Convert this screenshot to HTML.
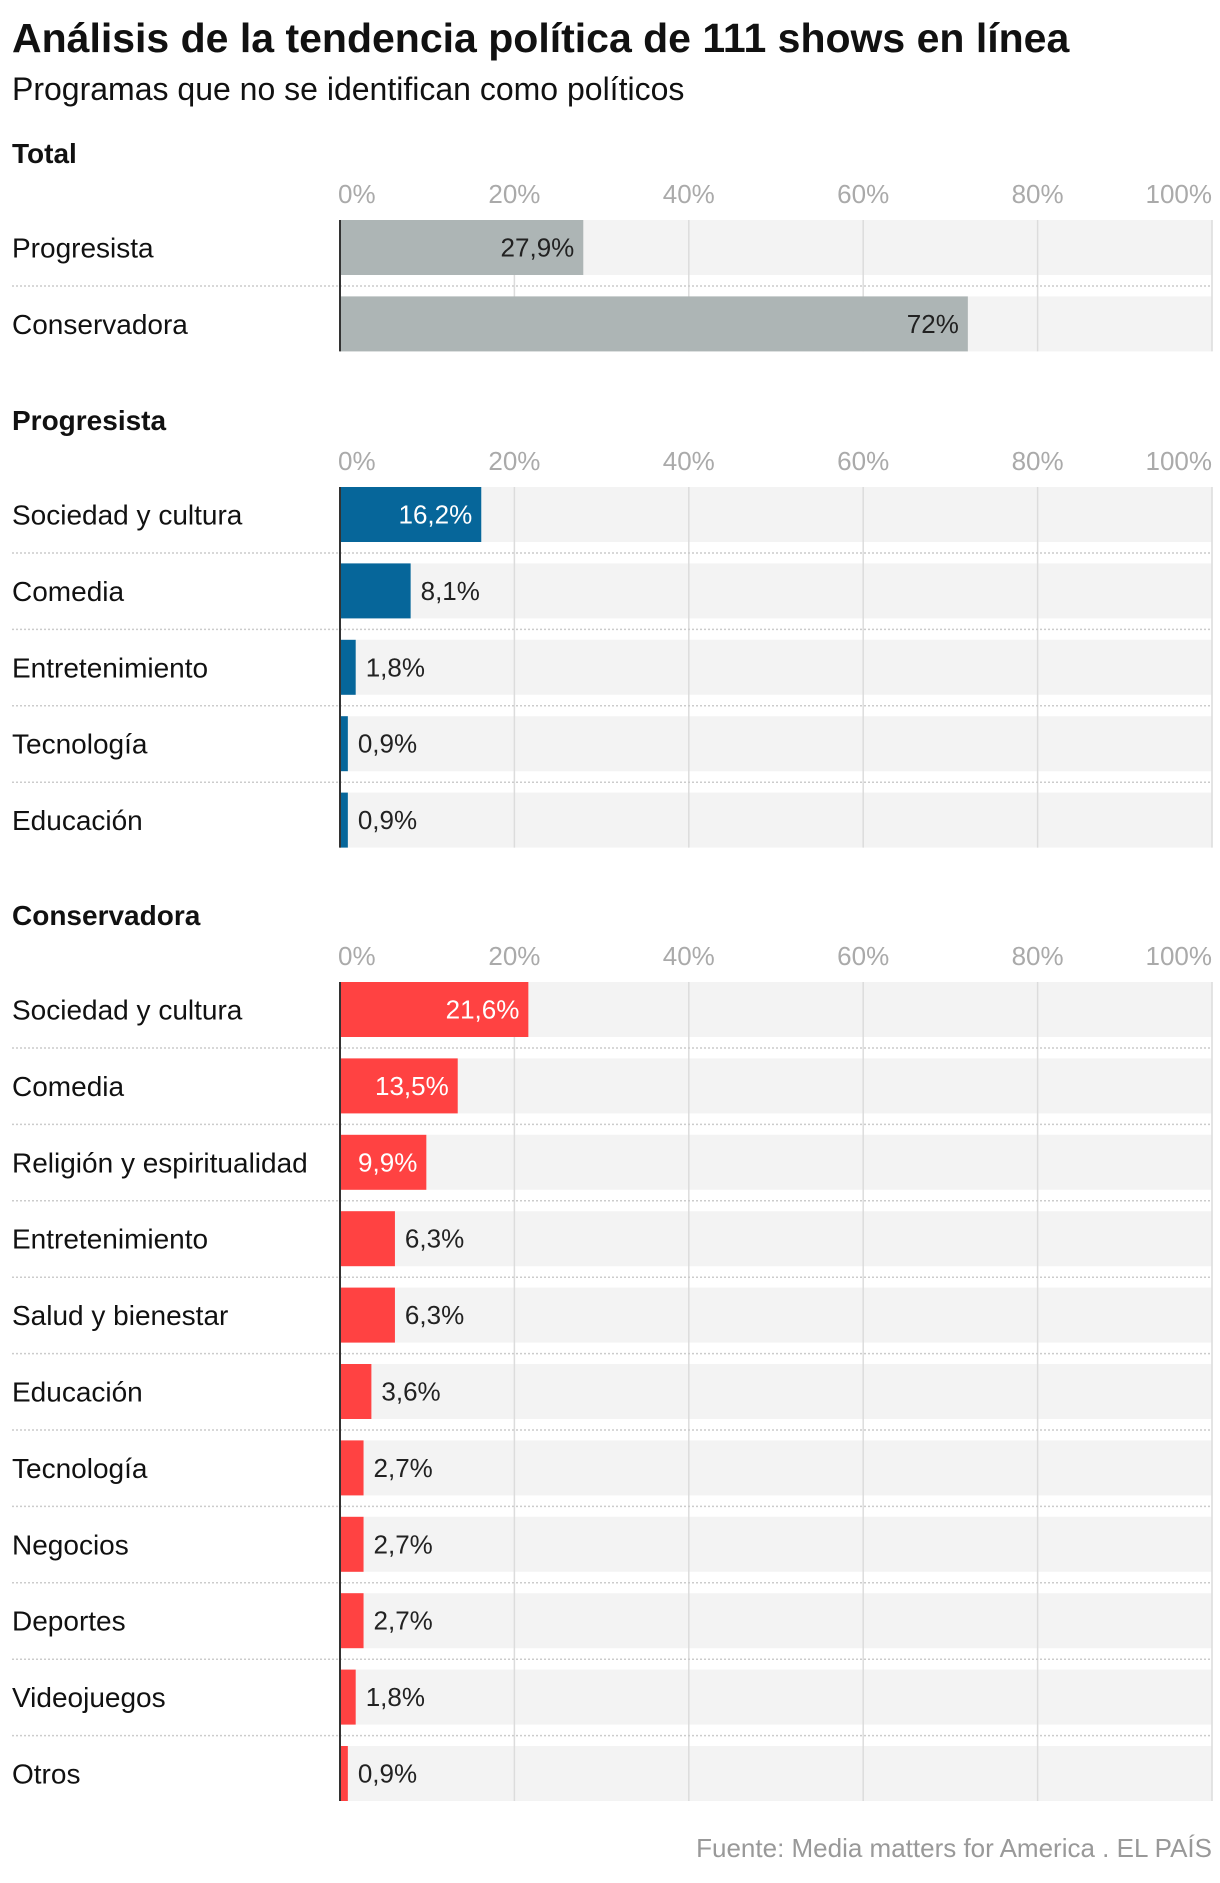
<!DOCTYPE html>
<html><head><meta charset="utf-8">
<style>
html,body{margin:0;padding:0;background:#fff;}
body{width:1220px;height:1878px;overflow:hidden;font-family:"Liberation Sans",sans-serif;}
svg text{font-family:"Liberation Sans",sans-serif;}
</style></head>
<body>
<svg id="chart" width="1220" height="1878" xmlns="http://www.w3.org/2000/svg">
<text x="12" y="52" font-size="41" font-weight="bold" fill="#111">Análisis de la tendencia política de 111 shows en línea</text>
<text x="12" y="100" font-size="32" fill="#111">Programas que no se identifican como políticos</text>
<text x="1212" y="1857" font-size="26" fill="#999" text-anchor="end">Fuente: Media matters for America . EL PAÍS</text>
</svg>
<script>
const ticks = [0, 20, 40, 60, 80, 100];
const tickLabels = ["0%", "20%", "40%", "60%", "80%", "100%"];
const totalCats = ["Progresista", "Conservadora"];
const totalVals = [27.9, 72];
const totalLabels = ["27,9%", "72%"];
const progCats = ["Sociedad y cultura", "Comedia", "Entretenimiento", "Tecnología", "Educación"];
const progVals = [16.2, 8.1, 1.8, 0.9, 0.9];
const progLabels = ["16,2%", "8,1%", "1,8%", "0,9%", "0,9%"];
const consCats = ["Sociedad y cultura", "Comedia", "Religión y espiritualidad", "Entretenimiento", "Salud y bienestar", "Educación", "Tecnología", "Negocios", "Deportes", "Videojuegos", "Otros"];
const consVals = [21.6, 13.5, 9.9, 6.3, 6.3, 3.6, 2.7, 2.7, 2.7, 1.8, 0.9];
const consLabels = ["21,6%", "13,5%", "9,9%", "6,3%", "6,3%", "3,6%", "2,7%", "2,7%", "2,7%", "1,8%", "0,9%"];

const NS = "http://www.w3.org/2000/svg";
const svg = document.getElementById("chart");
const X0 = 340, X1 = 1212, PITCH = 76.4, BARH = 55;
function x(v){ return X0 + (X1 - X0) * v / 100; }
function mk(tag, attrs, parent){
  const e = document.createElementNS(NS, tag);
  for (const k in attrs) e.setAttribute(k, attrs[k]);
  (parent || svg).appendChild(e);
  return e;
}
function section(name, slug, headerY, cats, vals, labels, color, inTextColor, outThreshold){
  const g = mk("g", {});
  
  
  const h = mk("text", {x: 12, y: headerY, "font-size": 28, "font-weight": "bold", fill: "#111"}, g);
  
  
  h.textContent = name;
  const barTop = headerY + 57;
  const n = cats.length;
  const bottom = barTop + (n - 1) * PITCH + BARH;
  ticks.forEach((t, i) => {
    const tl = mk("text", {x: x(t), y: headerY + 40, "font-size": 26, fill: "#aaa", "text-anchor": i === ticks.length - 1 ? "end" : (i === 0 ? "start" : "middle")}, g);
    
    
    if (i === 0) tl.setAttribute("x", x(t) - 2);
    tl.textContent = tickLabels[i];
  });
  cats.forEach((c, i) => {
    const y = barTop + i * PITCH;
    const bg = mk("rect", {x: X0, y: y, width: X1 - X0, height: BARH, fill: "#f3f3f3"}, g);
    
    
  });
  ticks.slice(1).forEach(t => {
    const gl = mk("line", {x1: x(t), x2: x(t), y1: barTop, y2: bottom, stroke: "#dcdcdc", "stroke-width": 1.5}, g);
    
    
  });
  cats.forEach((c, i) => {
    const y = barTop + i * PITCH;
    if (i < n - 1) {
      const sep = mk("line", {x1: 12, x2: X1, y1: y + BARH + 11, y2: y + BARH + 11, stroke: "#ccc", "stroke-width": 1.5, "stroke-dasharray": "2,2"}, g);
      
      
    }
    const lab = mk("text", {x: 12, y: y + BARH / 2 + 10, "font-size": 28, fill: "#111"}, g);
    
    
    lab.textContent = c;
    const b = mk("rect", {x: X0, y: y, width: x(vals[i]) - X0, height: BARH, fill: color}, g);
    
    
    const inside = vals[i] >= outThreshold;
    const vt = mk("text", {x: inside ? x(vals[i]) - 9 : x(vals[i]) + 10, y: y + BARH / 2 + 9, "font-size": 26, fill: inside ? inTextColor : "#222", "text-anchor": inside ? "end" : "start"}, g);
    
    
    vt.textContent = labels[i];
  });
  const ax = mk("line", {x1: X0, x2: X0, y1: barTop, y2: bottom, stroke: "#333", "stroke-width": 2}, g);
  
  
}
section("Total", "total", 163, totalCats, totalVals, totalLabels, "#adb5b5", "#222", 9);
section("Progresista", "progresista", 430, progCats, progVals, progLabels, "#06669a", "#fff", 9);
section("Conservadora", "conservadora", 925, consCats, consVals, consLabels, "#ff4242", "#fff", 9);
</script>
</body></html>
